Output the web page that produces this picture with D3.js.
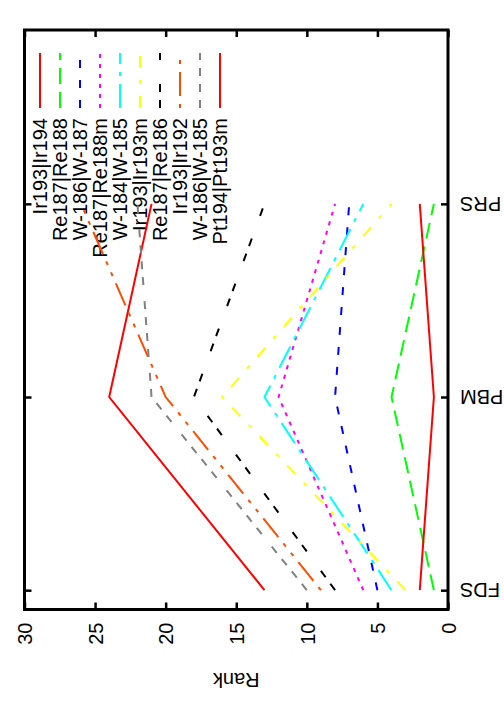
<!DOCTYPE html>
<html><head><meta charset="utf-8">
<script src="https://cdn.jsdelivr.net/npm/d3@7"></script>
<style>html,body{margin:0;padding:0;background:#fff}svg{display:block;font-family:"Liberation Sans",Arial,Helvetica,sans-serif}</style>
</head><body>
<svg id="chart" width="504" height="720"></svg>
<script>
// ---- data ----
const categories = ["FDS", "PBM", "PRS"];
const rankTicks = [0, 5, 10, 15, 20, 25, 30];
const seriesNames = ["Ir193|Ir194", "Re187|Re188", "W-186|W-187", "Re187|Re188m", "W-184|W-185",
                     "Ir193|Ir193m", "Re187|Re186", "Ir193|Ir192", "W-186|W-185", "Pt194|Pt193m"];
const Ir193_Ir194  = [13, 24, 21];
const Re187_Re188  = [1, 4, 1];
const W186_W187    = [5, 8, 7];
const Re187_Re188m = [6, 12, 8];
const W184_W185    = [4, 13, 6];
const Ir193_Ir193m = [3, 16, 4];
const Re187_Re186  = [8, 18, 13];
const Ir193_Ir192  = [9, 20, 26];
const W186_W185    = [10, 21, 22];
const Pt194_Pt193m = [2, 1, 2];
const seriesValues = [Ir193_Ir194, Re187_Re188, W186_W187, Re187_Re188m, W184_W185,
                      Ir193_Ir193m, Re187_Re186, Ir193_Ir192, W186_W185, Pt194_Pt193m];

// ---- styles ----
const colors = ["#ff0000", "#00ff00", "#0000ff", "#ff00ff", "#00ffff", "#ffff00", "#000000", "#ff4d00", "#808080", "#ff0000"];
const dashes = ["none", "16,8", "8,12", "4,6", "24,8,4,8", "12,12,4,12", "8,8,8,24", "4,8,24,8,4,8", "8,8,8,8,8,8,8,16", "none"];

const svg = d3.select("#chart");
const L = 24.5, R = 448, T = 30, B = 609.5;
const xRank = d3.scaleLinear().domain([0, 30]).range([R, L]);
const yCat = d3.scaleLinear().domain([-0.1, 2.9]).range([B, T]);
const FS = 20;

// bottom axis (rank)
const gB = svg.append("g").attr("transform", `translate(0,${B})`)
  .call(d3.axisBottom(xRank).tickValues(rankTicks).tickSize(-7).tickFormat(d3.format("d")));
gB.select(".domain").remove();
gB.selectAll("line").attr("stroke", "#000").attr("stroke-width", 2.5);
gB.selectAll("text").attr("transform", "rotate(-90)").attr("x", -13).attr("y", 0).attr("dy", "0.36em")
  .style("text-anchor", "end").attr("font-size", FS).attr("font-family", "Liberation Sans, Arial, sans-serif").attr("fill", "#000");

// top mirror
const gT = svg.append("g").attr("transform", `translate(0,${T})`)
  .call(d3.axisTop(xRank).tickValues(rankTicks).tickSize(-7).tickFormat(""));
gT.select(".domain").remove();
gT.selectAll("line").attr("stroke", "#000").attr("stroke-width", 2.5);

// right axis (categories)
const gR = svg.append("g").attr("transform", `translate(${R},0)`)
  .call(d3.axisRight(yCat).tickValues([0, 1, 2]).tickSize(-7).tickFormat(i => categories[i]));
gR.select(".domain").remove();
gR.selectAll("line").attr("stroke", "#000").attr("stroke-width", 2.5);
gR.selectAll("text").attr("transform", "rotate(180)").attr("x", -12).attr("y", 0).attr("dy", "0.36em")
  .style("text-anchor", "end").attr("font-size", FS).attr("font-family", "Liberation Sans, Arial, sans-serif").attr("fill", "#000");

// left mirror
const gL = svg.append("g").attr("transform", `translate(${L},0)`)
  .call(d3.axisLeft(yCat).tickValues([0, 1, 2]).tickSize(-7).tickFormat(""));
gL.select(".domain").remove();
gL.selectAll("line").attr("stroke", "#000").attr("stroke-width", 2.5);

// axis title
const rx = (L + R) / 2, ry = 680;
svg.append("text").attr("x", rx).attr("y", ry).attr("dy", "0.36em")
  .attr("transform", `rotate(180,${rx},${ry})`).attr("text-anchor", "middle")
  .attr("font-size", FS).text("Rank");

// legend
const legX = i => 40 + 20 * i;
const leg = svg.append("g");
seriesNames.forEach((name, i) => {
  leg.append("line").attr("x1", legX(i)).attr("x2", legX(i)).attr("y1", 108).attr("y2", 53)
    .attr("stroke", colors[i]).attr("stroke-width", 2).attr("stroke-dasharray", dashes[i]);
  leg.append("text").attr("x", 0).attr("y", 0).attr("dy", "0.36em")
    .attr("transform", `translate(${legX(i)},118) rotate(-90)`).attr("text-anchor", "end")
    .attr("font-size", FS).text(name);
});

// lines
const line = d3.line().x(d => xRank(d.v)).y(d => yCat(d.i));
seriesValues.forEach((vals, i) => {
  svg.append("path").datum(vals.map((v, k) => ({v, i: k})))
    .attr("d", line).attr("fill", "none").attr("stroke", colors[i]).attr("stroke-width", 2)
    .attr("stroke-dasharray", dashes[i]);
});

// frame
svg.append("rect").attr("x", L).attr("y", T).attr("width", R - L).attr("height", B - T)
  .attr("fill", "none").attr("stroke", "#000").attr("stroke-width", 3);
</script>
</body></html>
